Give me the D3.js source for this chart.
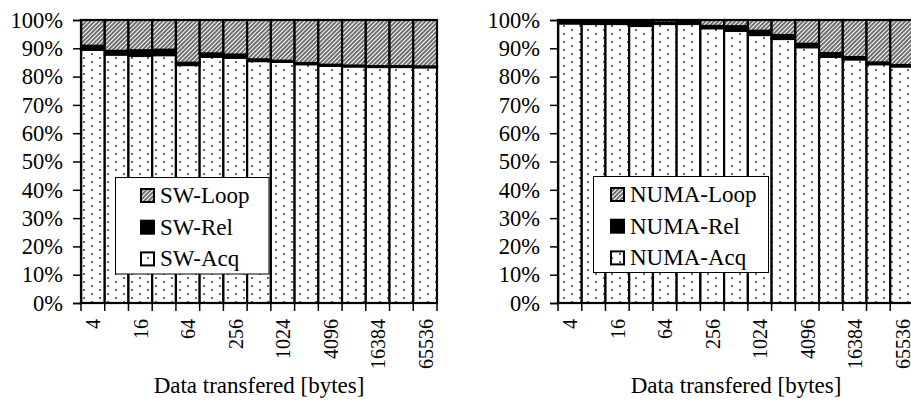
<!DOCTYPE html>
<html><head><meta charset="utf-8">
<script src="https://cdn.jsdelivr.net/npm/d3@7"></script>
<style>
html,body{margin:0;padding:0;background:#fff;}
svg text{font-family:"Liberation Serif","DejaVu Serif","Times New Roman",serif !important;fill:#000;}
</style></head>
<body>
<svg id="chart" width="911" height="401"></svg>
<script>
const categories = ["4","8","16","32","64","128","256","512","1024","2048","4096","8192","16384","32768","65536"];
const tickLabels = ["4","16","64","256","1024","4096","16384","65536"];
const yTicks = [0,10,20,30,40,50,60,70,80,90,100];

const swAcq  = [89.5, 87.8, 87.3, 87.6, 84.1, 87.0, 86.7, 85.5, 85.2, 84.4, 83.8, 83.6, 83.4, 83.4, 83.3];
const swRel  = [1.4, 1.3, 2.0, 1.9, 0.8, 1.2, 1.1, 0.6, 0.4, 0.4, 0.4, 0.3, 0.3, 0.3, 0.3];
const swLoop = [9.1, 10.9, 10.7, 10.5, 15.1, 11.8, 12.2, 13.9, 14.4, 15.2, 15.8, 16.1, 16.3, 16.3, 16.4];

const numaAcq  = [98.8, 98.6, 98.6, 97.9, 98.6, 98.6, 97.1, 96.2, 94.7, 93.3, 90.4, 87.0, 86.1, 84.4, 83.6];
const numaRel  = [1.1, 1.2, 1.2, 2.0, 0.5, 1.3, 0.8, 1.6, 1.5, 1.4, 1.2, 1.3, 0.8, 0.6, 0.5];
const numaLoop = [0.1, 0.2, 0.2, 0.1, 0.9, 0.1, 2.1, 2.2, 3.8, 5.3, 8.4, 11.7, 13.1, 15.0, 15.9];

const FONT = '"Liberation Serif","DejaVu Serif","Times New Roman",serif';
const svg = d3.select("#chart");
const defs = svg.append("defs");

// hatch pattern
const hatch = defs.append("pattern").attr("id","hatch").attr("patternUnits","userSpaceOnUse")
  .attr("width",3).attr("height",3).attr("patternTransform","rotate(45)");
hatch.append("rect").attr("width",3).attr("height",3).attr("fill","#fff");
hatch.append("line").attr("x1",1).attr("y1",0).attr("x2",1).attr("y2",3).attr("stroke","#222").attr("stroke-width",1.3);

// dots pattern
const dots = defs.append("pattern").attr("id","dots").attr("patternUnits","userSpaceOnUse")
  .attr("width",16).attr("height",8);
dots.append("rect").attr("width",16).attr("height",8).attr("fill","#fff");
dots.append("circle").attr("cx",4).attr("cy",2).attr("r",1).attr("fill","#333");
dots.append("circle").attr("cx",12).attr("cy",6).attr("r",1).attr("fill","#333");

const fills = {acq:"url(#dots)", rel:"#000", loop:"url(#hatch)"};

function panel(x0, x1, acq, rel, loop, prefix, legendBox) {
  const data = categories.map((c,i)=>({cat:c, acq:acq[i], rel:rel[i], loop:loop[i]}));
  const x = d3.scaleBand().domain(categories).range([x0, x1]).padding(0);
  const y = d3.scaleLinear().domain([0,100]).range([303, 20]);
  const g = svg.append("g");
  const series = d3.stack().keys(["acq","rel","loop"])(data);

  series.forEach(s => {
    g.append("g").selectAll("rect").data(s).join("rect")
      .attr("x", d => x(d.data.cat))
      .attr("width", x.bandwidth())
      .attr("y", d => y(d[1]))
      .attr("height", d => y(d[0]) - y(d[1]))
      .attr("fill", fills[s.key])
      .attr("stroke", "#000").attr("stroke-width", 2.2);
  });

  // y axis
  const ya = g.append("g").attr("transform", `translate(${x0},0)`)
    .call(d3.axisLeft(y).tickValues(yTicks).tickFormat(d => d + "%").tickSize(8).tickPadding(10));
  ya.attr("font-family", FONT).attr("font-size", null);
  ya.select(".domain").attr("stroke","#000").attr("stroke-width",1.5);
  ya.selectAll(".tick line").attr("stroke","#000").attr("stroke-width",1.5);
  ya.selectAll("text").style("font-size","22.5px").style("font-family",FONT);

  // x axis line + ticks at band edges
  const xa = g.append("g");
  xa.append("line").attr("x1", x0).attr("x2", x1).attr("y1", 303).attr("y2", 303)
    .attr("stroke","#000").attr("stroke-width",1.5);
  const edges = categories.map(c => x(c)).concat([x1]);
  xa.selectAll("line.t").data(edges).join("line").attr("class","t")
    .attr("x1", d=>d).attr("x2", d=>d).attr("y1",303).attr("y2",311)
    .attr("stroke","#000").attr("stroke-width",1.5);
  xa.selectAll("text").data(tickLabels).join("text")
    .attr("transform", d => `translate(${x(d) + x.bandwidth()/2 + 7.5},319) rotate(-90)`)
    .attr("text-anchor","end")
    .style("font-size","20px").style("font-family",FONT)
    .text(d => d);

  g.append("text").attr("x", (x0 + x1)/2).attr("y", 393).attr("text-anchor","middle")
    .style("font-size","23px").style("font-family",FONT).text("Data transfered [bytes]");

  // legend
  const lg = g.append("g");
  lg.append("rect").attr("x", legendBox.x).attr("y", legendBox.y).attr("width", legendBox.w).attr("height", legendBox.h)
    .attr("fill","#fff").attr("stroke","#000").attr("stroke-width",1);
  const items = [["loop", prefix + "-Loop"], ["rel", prefix + "-Rel"], ["acq", prefix + "-Acq"]];
  items.forEach((it, i) => {
    const cy = legendBox.y + 18 + i * 31.7;
    lg.append("rect").attr("x", legendBox.sx).attr("y", cy - 6.5).attr("width", 13).attr("height", 13)
      .attr("fill", fills[it[0]]).attr("stroke","#000").attr("stroke-width",2);
    lg.append("text").attr("x", legendBox.sx + 19).attr("y", cy + 7.5)
      .style("font-size","23px").style("font-family",FONT).text(it[1]);
  });
}

panel(81, 437, swAcq, swRel, swLoop, "SW", {x:115.5, y:177.5, w:153.5, h:96.5, sx:141});
panel(558, 914, numaAcq, numaRel, numaLoop, "NUMA", {x:593.5, y:176.5, w:175, h:96, sx:611});
</script>
</body></html>
